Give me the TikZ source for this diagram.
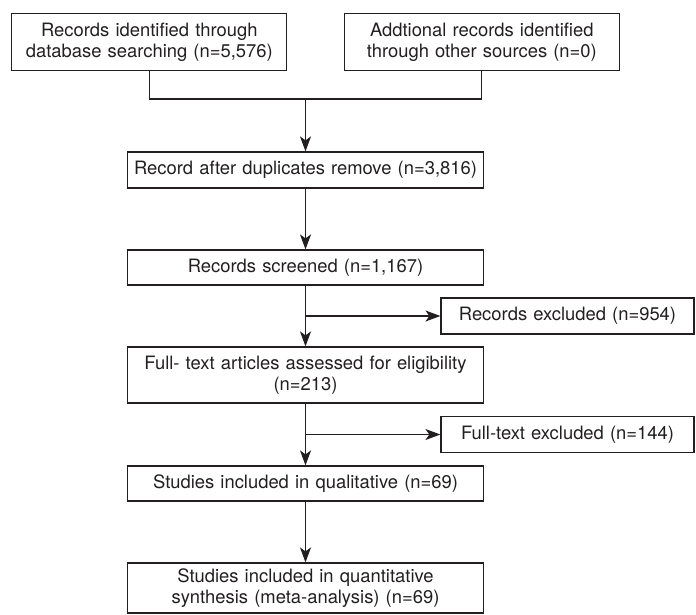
\documentclass[tikz,border=0pt]{standalone}
\usepackage{fontspec}
\setmainfont{TeX Gyre Heros}
\usepackage{tikz}
\usetikzlibrary{arrows.meta}
\definecolor{ink}{HTML}{231F20}
\tikzset{
	every box/.style={
		rectangle,
		draw=ink,
		line width=1.2pt,
		text=ink,
		align=center,
		inner sep=0pt,
		font=\fontsize{18.4}{21}\selectfont
	},
	box source/.style={
		minimum width=275pt,
		text width=270pt,
		minimum height=57pt
	},
	box stage/.style={
		minimum width=356pt,
		text width=350pt
	},
	box excluded/.style={
		minimum width=253pt,
		text width=248pt,
		minimum height=36pt
	},
}

\begin{document}
\begin{tikzpicture}[x=1pt, y=-1pt, >={Stealth[length=15pt, width=11pt, inset=4pt]}, line width=1.2pt, color=ink]

\useasboundingbox (0,0) rectangle (696,614);

\foreach \t/\x [count=\i] in {{Records identified through\\database searching (n=5,576)}/149.3, {Addtional records identified\\through other sources (n=0)}/481.8}
	\node [every box/.try, box source] (source-\i) at (\x,42.3) {\t};

\foreach \t/\y/\h [count=\i] in {{Record after duplicates remove (n=3,816)}/170/36, {Records screened (n=1,167)}/267.5/35, {Full- text articles assessed for eligibility\\(n=213)}/375/56, {Studies included in qualitative (n=69)}/483.5/35, {Studies included in quantitative\\synthesis (meta-analysis) (n=69)}/588/50}
	\node [every box/.try, box stage, minimum height=\h pt] (stage-\i) at (305.5,\y) {\t};

\foreach \t/\y [count=\i] in {{Records excluded (n=954)}/316, {Full-text excluded (n=144)}/434.5}
	\node [every box/.try, box excluded] (excluded-\i) at (567.5,\y) {\t};

\coordinate (merge) at (305.5,99);

\draw (source-1.south) |- (merge) -| (source-2.south);

\draw [->] (merge) -- (stage-1);

\foreach \i [count=\j from 2] in {1,...,4}
	\draw [->] (stage-\i) -- (stage-\j);

\foreach \i/\k in {2/1, 3/2}
	\draw [->] (stage-\i.south |- excluded-\k.west) -- (excluded-\k);

\end{tikzpicture}
\end{document}
